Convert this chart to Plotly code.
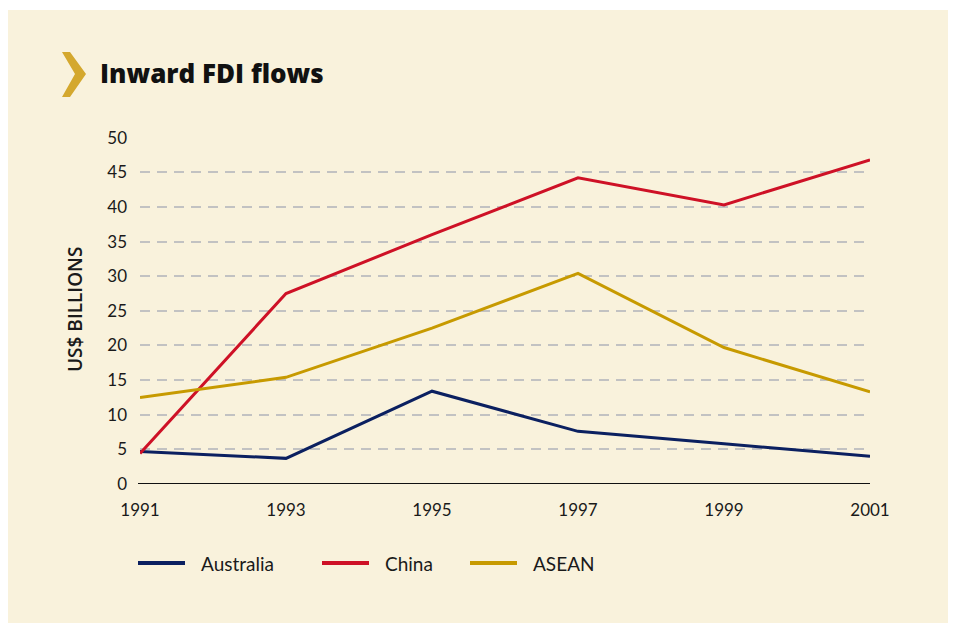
import plotly.graph_objects as go

years = [1991, 1993, 1995, 1997, 1999, 2001]
australia = [4.7, 3.7, 13.4, 7.6, 5.8, 4.0]
china = [4.4, 27.5, 36.0, 44.2, 40.3, 46.8]
asean = [12.5, 15.4, 22.5, 30.4, 19.7, 13.3]
series_names = ["Australia", "China", "ASEAN"]
series_colors = ["#0B2060", "#CE1126", "#C79A00"]
y_ticks = list(range(0, 55, 5))
x_ticks = years

# page offset from the default body margin
OX, OY = 8, 8
W, H = 956 - OX, 623 - OY
L, R, T, B = 140 - OX, 86, 137 - OY, 139
FONT = "Lato"
CREAM = "#F9F2DC"

def px_x(p):  # reference page px -> paper
    return (p - OX - L) / (W - L - R)

def px_y(p):
    return (H - B - (p - OY)) / (H - T - B)

fig = go.Figure()
for name, vals, col in zip(series_names, [australia, china, asean], series_colors):
    fig.add_trace(go.Scatter(x=years, y=vals, name=name, mode="lines",
                             line=dict(color=col, width=3), cliponaxis=False))

fig.update_layout(
    width=W, height=H,
    margin=dict(l=L, r=R, t=T, b=B),
    paper_bgcolor=CREAM,
    plot_bgcolor="rgba(0,0,0,0)",
    font=dict(family=FONT, size=17, color="#1a1a1a"),
    showlegend=False,
    xaxis=dict(range=[1991, 2001], tickvals=x_ticks, ticktext=[str(v) for v in x_ticks],
               showgrid=False, zeroline=False, showline=False,
               ticks="", ticklabelstandoff=14, tickfont=dict(size=17)),
    yaxis=dict(range=[0, 50.1], tickvals=y_ticks, showgrid=True, gridcolor="#C2C2C2",
               griddash="10px,7px", gridwidth=2, zeroline=False, showline=False,
               ticks="", ticklabelstandoff=12, tickfont=dict(size=17)),
)

# white strip at top (cream panel starts a bit lower)
fig.add_shape(type="rect", xref="paper", yref="paper", layer="below",
              x0=px_x(0), x1=px_x(960), y0=px_y(10), y1=px_y(0),
              fillcolor="white", line=dict(width=0))
# zero baseline
fig.add_shape(type="line", xref="paper", yref="y", x0=px_x(138), x1=1, y0=0, y1=0,
              line=dict(color="#111111", width=2))
# chevron marker
pts = [(62, 52), (70, 52), (86, 74), (70, 97), (62, 97), (75, 74)]
path = "M " + " L ".join(f"{px_x(a)},{px_y(b)}" for a, b in pts) + " Z"
fig.add_shape(type="path", xref="paper", yref="paper", path=path,
              fillcolor="#D4A82E", line=dict(width=0))

fig.add_annotation(text="Inward FDI flows", xref="paper", yref="paper",
                   x=px_x(98), y=px_y(73), xanchor="left", yanchor="middle",
                   showarrow=False,
                   font=dict(size=26, color="#111111", family="Open Sans", weight=800))
fig.add_annotation(text="US$ BILLIONS", xref="paper", yref="paper",
                   x=px_x(75), y=px_y(310), xanchor="center", yanchor="middle",
                   textangle=-90, showarrow=False,
                   font=dict(size=19, color="#1a1a1a", family="Open Sans", weight=600))

# legend drawn manually
leg_line_x = [138, 322, 470]
leg_y = 563
for name, col, x0 in zip(series_names, series_colors, leg_line_x):
    fig.add_shape(type="line", xref="paper", yref="paper",
                  x0=px_x(x0), x1=px_x(x0 + 47), y0=px_y(leg_y), y1=px_y(leg_y),
                  line=dict(color=col, width=4))
    fig.add_annotation(text=name, xref="paper", yref="paper",
                       x=px_x(x0 + 61), y=px_y(leg_y), xanchor="left", yanchor="middle",
                       showarrow=False, font=dict(size=19, color="#1a1a1a", family=FONT))

fig.write_html("out.html")
